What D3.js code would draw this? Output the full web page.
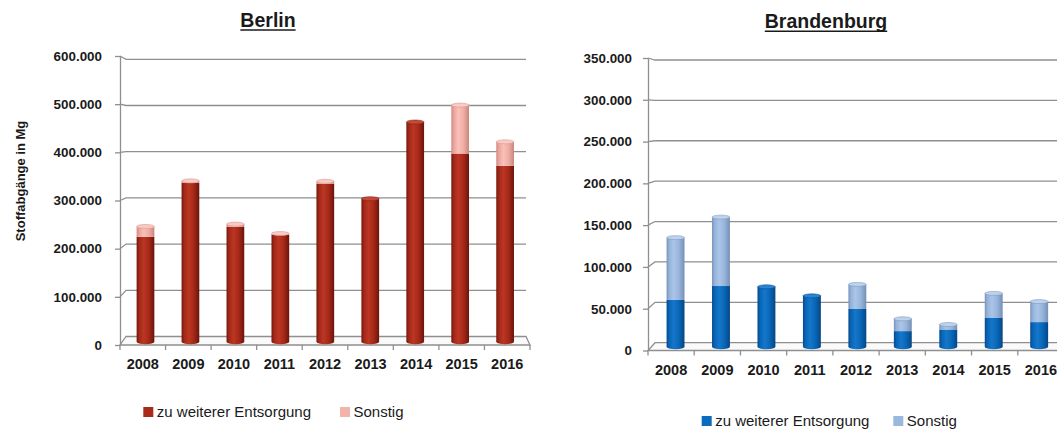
<!DOCTYPE html>
<html>
<head>
<meta charset="utf-8">
<script src="https://cdn.jsdelivr.net/npm/d3@7"></script>
<style>
body { margin: 0; background: #fff; }
svg { display: block; font-family: "Liberation Sans", Arial, sans-serif; }
</style>
</head>
<body>
<div id="chart"></div>
<script>
// data (Mg)
const years = ["2008", "2009", "2010", "2011", "2012", "2013", "2014", "2015", "2016"];
const seriesNames = ["zu weiterer Entsorgung", "Sonstig"];

const berlinEntsorgung = [223000, 338000, 244000, 227000, 336000, 304000, 467000, 400000, 374000];
const berlinSonstig    = [22000, 4000, 6000, 3000, 5000, 0, 0, 103000, 51000];
const berlinTicks = [0, 100000, 200000, 300000, 400000, 500000, 600000];

const brandenburgEntsorgung = [57000, 74000, 73000, 62000, 46000, 19000, 21000, 35000, 30000];
const brandenburgSonstig    = [76000, 84000, 0, 0, 30000, 15000, 6000, 30000, 25000];
const brandenburgTicks = [0, 50000, 100000, 150000, 200000, 250000, 300000, 350000];

const de = d3.formatLocale({decimal: ",", thousands: ".", grouping: [3], currency: ["", " €"]});
const fmt = de.format(",");

const svg = d3.select("#chart").append("svg")
    .attr("width", 1057)
    .attr("height", 430);
const defs = svg.append("defs");

// horizontal gradient to fake the cylinder shading
function cylGradient(id, stops) {
  const lg = defs.append("linearGradient").attr("id", id)
    .attr("x1", "0%").attr("x2", "100%").attr("y1", "0%").attr("y2", "0%");
  lg.selectAll("stop").data(stops).enter().append("stop")
    .attr("offset", d => d[0])
    .attr("stop-color", d => d[1]);
}
cylGradient("berDark", [["0%", "#74170d"], ["15%", "#a32818"], ["40%", "#bb3623"], ["70%", "#a52818"], ["100%", "#6a140b"]]);
cylGradient("berLight", [["0%", "#d08a82"], ["15%", "#eca59c"], ["40%", "#f8c1b9"], ["70%", "#efaca3"], ["100%", "#c7857d"]]);
cylGradient("braDark", [["0%", "#084a8c"], ["15%", "#0865b7"], ["40%", "#1577ca"], ["70%", "#0866b6"], ["100%", "#064684"]]);
cylGradient("braLight", [["0%", "#7893bb"], ["15%", "#97b3da"], ["40%", "#aac5e8"], ["70%", "#98b4da"], ["100%", "#758fb6"]]);

function drawPanel(p) {
  const g = svg.append("g");
  const keys = ["entsorgung", "sonstig"];
  const rows = years.map((y, i) => ({year: y, entsorgung: p.entsorgung[i], sonstig: p.sonstig[i]}));
  const stacked = d3.stack().keys(keys)(rows);
  const max = d3.max(p.ticks);

  const yFront = d3.scaleLinear().domain([0, max]).range([p.frontBottom, p.frontTop]);
  const yBack = d3.scaleLinear().domain([0, max]).range([p.backBottom, p.backTop]);
  const yBar = d3.scaleLinear().domain([0, max]).range([p.barBottom, p.barTop]);
  const xFront = d3.scaleBand().domain(years).range([p.axisX, p.frontRight]);
  const xBar = d3.scaleBand().domain(years).range(p.barRange)
    .paddingInner(0.606).paddingOuter(0.303);

  // gridlines: left wall diagonal then back wall
  g.append("g").selectAll("path")
    .data(p.ticks.filter(t => t > 0))
    .enter().append("path")
      .attr("d", t => "M" + p.axisX + "," + yFront(t) + "L" + p.backLeft + "," + yBack(t) + "L" + p.backRight + "," + yBack(t))
      .attr("fill", "none")
      .attr("stroke", "#8f8f8f")
      .attr("stroke-width", 1.3);

  // floor
  g.append("path")
    .attr("d", "M" + p.axisX + "," + yFront(0) + "L" + p.frontRight + "," + yFront(0) +
      "L" + p.backRight + "," + yBack(0) + "L" + p.backLeft + "," + yBack(0) + "Z")
    .attr("fill", "#fafafa")
    .attr("stroke", "#8f8f8f")
    .attr("stroke-width", 1.3);

  // y axis (front)
  const ya = g.append("g")
    .attr("transform", "translate(" + p.axisX + ",0)")
    .call(d3.axisLeft(yFront).tickValues(p.ticks).tickFormat(fmt).tickSize(5).tickSizeOuter(0).tickPadding(p.labelGap));
  ya.select(".domain").attr("stroke", "#8f8f8f").attr("stroke-width", 1.3);
  ya.selectAll(".tick line").attr("stroke", "#8f8f8f").attr("stroke-width", 1.3);
  ya.selectAll(".tick text")
    .attr("font-family", "Liberation Sans, Arial, sans-serif")
    .attr("font-size", 13.4)
    .attr("font-weight", "bold")
    .attr("fill", "#1a1a1a");

  // x axis (front edge of the floor)
  const xa = g.append("g")
    .attr("transform", "translate(0," + yFront(0) + ")")
    .call(d3.axisBottom(xFront).tickSize(0).tickPadding(14));
  xa.select(".domain").remove();
  xa.selectAll(".tick text")
    .attr("font-family", "Liberation Sans, Arial, sans-serif")
    .attr("font-size", 14.5)
    .attr("font-weight", "bold")
    .attr("fill", "#1a1a1a");
  xa.selectAll("line.sep")
    .data(d3.range(years.length + 1))
    .enter().append("line")
      .attr("class", "sep")
      .attr("x1", i => p.axisX + i * xFront.step())
      .attr("x2", i => p.axisX + i * xFront.step())
      .attr("y1", 0)
      .attr("y2", 5)
      .attr("stroke", "#8f8f8f")
      .attr("stroke-width", 1.3);

  // bars as cylinders
  const bw = xBar.bandwidth();
  const bars = g.append("g");
  bars.selectAll("ellipse.base")
    .data(rows)
    .enter().append("ellipse")
      .attr("cx", d => xBar(d.year) + bw / 2)
      .attr("cy", yBar(0))
      .attr("rx", bw / 2)
      .attr("ry", 2.5)
      .attr("fill", "url(#" + p.grad[0] + ")");

  stacked.forEach((layer, li) => {
    bars.append("g").selectAll("rect")
      .data(layer.filter(d => d[1] > d[0]))
      .enter().append("rect")
        .attr("x", d => xBar(d.data.year))
        .attr("y", d => yBar(d[1]))
        .attr("width", bw)
        .attr("height", d => yBar(d[0]) - yBar(d[1]))
        .attr("fill", "url(#" + p.grad[li] + ")");
  });

  bars.selectAll("ellipse.top")
    .data(rows)
    .enter().append("ellipse")
      .attr("cx", d => xBar(d.year) + bw / 2)
      .attr("cy", d => yBar(d.entsorgung + d.sonstig))
      .attr("rx", bw / 2)
      .attr("ry", 2)
      .attr("fill", d => d.sonstig > 0 ? p.capColors[1] : p.capColors[0])
      .attr("stroke", d => d.sonstig > 0 ? p.capEdge[1] : p.capEdge[0])
      .attr("stroke-width", 0.6);

  // title with underline
  const title = g.append("text")
    .attr("x", p.titleX)
    .attr("y", p.titleY)
    .attr("text-anchor", "middle")
    .attr("font-size", 19.5)
    .attr("font-weight", "bold")
    .attr("fill", "#1a1a1a")
    .text(p.title);
  const tw = title.node().getComputedTextLength();
  g.append("line")
    .attr("x1", p.titleX - tw / 2).attr("x2", p.titleX + tw / 2)
    .attr("y1", p.titleY + 3).attr("y2", p.titleY + 3)
    .attr("stroke", "#1a1a1a")
    .attr("stroke-width", 1.5);

  // legend
  const leg = g.append("g");
  seriesNames.forEach((name, i) => {
    leg.append("rect")
      .attr("x", p.legendX[i])
      .attr("y", p.legendY - 5)
      .attr("width", 10)
      .attr("height", 10)
      .attr("fill", p.legendColors[i]);
    leg.append("text")
      .attr("x", p.legendX[i] + 13.5)
      .attr("y", p.legendY)
      .attr("dy", "0.35em")
      .attr("font-size", 15)
      .attr("fill", "#1a1a1a")
      .text(name);
  });

  if (p.yTitle) {
    g.append("text")
      .attr("transform", "translate(" + p.yTitleX + "," + p.yTitleY + ") rotate(-90)")
      .attr("text-anchor", "middle")
      .attr("dy", "0.35em")
      .attr("font-size", 13)
      .attr("font-weight", "bold")
      .attr("fill", "#1a1a1a")
      .text(p.yTitle);
  }
}

drawPanel({
  title: "Berlin", titleX: 268, titleY: 27,
  yTitle: "Stoffabgänge in Mg", yTitleX: 20, yTitleY: 181,
  entsorgung: berlinEntsorgung, sonstig: berlinSonstig, ticks: berlinTicks,
  axisX: 120, frontRight: 530, backLeft: 126, backRight: 526,
  frontBottom: 345, frontTop: 56,
  backBottom: 336.5, backTop: 59.3,
  barBottom: 341.7, barTop: 59.5,
  barRange: [123, 527.6],
  labelGap: 13,
  grad: ["berDark", "berLight"],
  capColors: ["#c24a36", "#f9cbc4"], capEdge: ["#8a2014", "#d59a92"],
  legendX: [143.3, 340], legendY: 412,
  legendColors: ["#a82a1a", "#f3b3aa"]
});

drawPanel({
  title: "Brandenburg", titleX: 826, titleY: 28.3,
  entsorgung: brandenburgEntsorgung, sonstig: brandenburgSonstig, ticks: brandenburgTicks,
  axisX: 648, frontRight: 1064, backLeft: 655, backRight: 1060,
  frontBottom: 350.5, frontTop: 58,
  backBottom: 342.7, backTop: 60,
  barBottom: 346.7, barTop: 59.7,
  barRange: [652.8, 1061.9],
  labelGap: 11,
  grad: ["braDark", "braLight"],
  capColors: ["#2a84d0", "#bdd2ec"], capEdge: ["#0a4f95", "#7d98c0"],
  legendX: [701.7, 893.3], legendY: 421,
  legendColors: ["#0a6cbd", "#9ab8dd"]
});
</script>
</body>
</html>
